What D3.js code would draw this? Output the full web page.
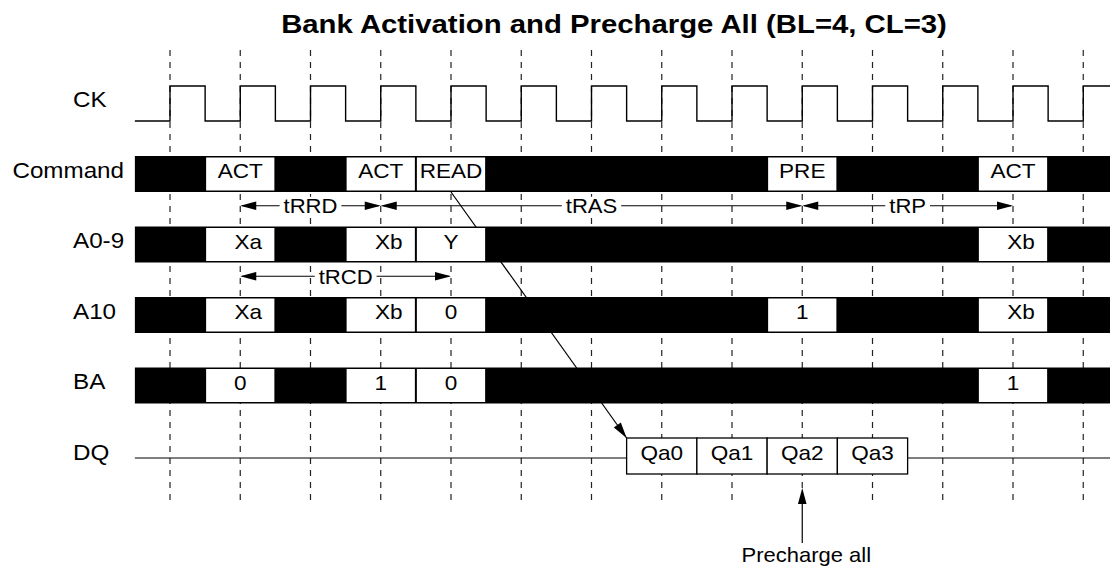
<!DOCTYPE html>
<html>
<head>
<meta charset="utf-8">
<script src="https://cdn.jsdelivr.net/npm/d3@7/dist/d3.min.js"></script>
<style>
  body { margin: 0; background: #fff; }
  text { font-family: "Liberation Sans", Arial, sans-serif; fill: #000; }
</style>
</head>
<body>
<svg id="chart" width="1110" height="568"></svg>
<script>
// chart data
var title = 'Bank Activation and Precharge All (BL=4, CL=3)';
var signals = ['CK', 'Command', 'A0-9', 'A10', 'BA', 'DQ'];
var edges = d3.range(0, 14);                 // clock rising edges
var slotCycles = [0, 2, 3, 8, 11];           // cycle a bus value starts after
var cmdValues = ['ACT', 'ACT', 'READ', 'PRE', 'ACT'];
var addrValues = ['Xa', 'Xb', 'Y', null, 'Xb'];
var a10Values = ['Xa', 'Xb', '0', '1', 'Xb'];
var baValues = ['0', '1', '0', null, '1'];
var dqCycles = [6, 7, 8, 9];
var dqValues = ['Qa0', 'Qa1', 'Qa2', 'Qa3'];
var timingNames = ['tRRD', 'tRAS', 'tRP', 'tRCD'];
var timingFrom = [1, 3, 9, 1];
var timingTo = [3, 9, 12, 4];
var timingBelow = ['Command', 'Command', 'Command', 'A0-9'];
var readCycle = 4, prechargeCycle = 9;
var noteText = 'Precharge all';

var W = 1110, H = 568, SX = 1.1;
var svg = d3.select('#chart');

var x = d3.scaleLinear().domain([0, 13]).range([170, 1083.25]);
var y = d3.scalePoint().domain(signals).range([103.5, 456]);
var half = 18, ckAmp = 17.5;

// stretched text helper (reference font is a bit wide)
function label(g, tx, ty, txt, size, anchor, weight, sx) {
    return g.append('text')
        .attr('transform', 'translate(' + tx + ',' + ty + ') scale(' + (sx || SX) + ',1)')
        .attr('text-anchor', anchor || 'middle')
        .attr('font-size', size)
        .attr('font-weight', weight || 'normal')
        .text(txt);
}
function arrowHead(g, tx, ty, ang) {
    var L = 16, w = 4.3, c = Math.cos(ang), s = Math.sin(ang);
    var bx = tx - L * c, by = ty - L * s;
    g.append('polygon')
        .attr('points', [[tx, ty], [bx - w * s, by + w * c], [bx + w * s, by - w * c]].join(' '))
        .attr('fill', '#000');
}

// title
label(svg, 614, 33, title, 25.5, 'middle', 'bold', 1.15);

// dashed clock edge guides
svg.append('g').selectAll('line').data(edges).enter().append('line')
    .attr('x1', d => x(d)).attr('x2', d => x(d))
    .attr('y1', 50).attr('y2', 503)
    .attr('stroke', '#222').attr('stroke-width', 1.2)
    .attr('stroke-dasharray', '6 6');

// READ -> data diagonal (under the buses)
var dx0 = x(readCycle), dy0 = y('Command') + half;
var dx1 = x(dqCycles[0] + 0.5), dy1 = y('DQ') - half;
svg.append('line')
    .attr('x1', dx0).attr('y1', dy0).attr('x2', dx1).attr('y2', dy1)
    .attr('stroke', '#000').attr('stroke-width', 1.2);
arrowHead(svg, dx1, dy1, Math.atan2(dy1 - dy0, dx1 - dx0));

// clock
var ckPts = [[x(-0.5), y('CK') + ckAmp]];
edges.forEach(function (k) {
    ckPts.push([x(k), y('CK') + ckAmp], [x(k), y('CK') - ckAmp]);
    var xf = Math.min(x(k + 0.5), W);
    ckPts.push([xf, y('CK') - ckAmp]);
    if (x(k + 0.5) < W) ckPts.push([xf, y('CK') + ckAmp]);
});
svg.append('path')
    .attr('d', d3.line()(ckPts))
    .attr('fill', 'none').attr('stroke', '#000').attr('stroke-width', 1.4);

// buses
var buses = [['Command', cmdValues], ['A0-9', addrValues], ['A10', a10Values], ['BA', baValues]];
buses.forEach(function (b) {
    var cy = y(b[0]);
    var g = svg.append('g');
    g.append('rect')
        .attr('x', x(-0.5)).attr('y', cy - half)
        .attr('width', W - x(-0.5)).attr('height', 2 * half)
        .attr('fill', '#000');
    var cells = slotCycles.map((k, i) => ({ k: k, v: b[1][i] })).filter(d => d.v !== null);
    g.selectAll('rect.cell').data(cells).enter().append('rect')
        .attr('class', 'cell')
        .attr('x', d => x(d.k + 0.5) + 1).attr('y', cy - half + 1.5)
        .attr('width', d => x(d.k + 1.5) - x(d.k + 0.5) - 2).attr('height', 2 * half - 3)
        .attr('fill', '#fff');
    cells.forEach(function (d) {
        var off = d.v.charAt(0) === 'X' ? 8 : 0;
        label(g, x(d.k + 1) + off, cy + 4, d.v, 20.5);
    });
});

// DQ line and burst
var dq = svg.append('g');
dq.append('line')
    .attr('x1', x(-0.5)).attr('x2', W)
    .attr('y1', y('DQ') + 2).attr('y2', y('DQ') + 2)
    .attr('stroke', '#000').attr('stroke-width', 1.2);
dq.selectAll('rect').data(dqCycles).enter().append('rect')
    .attr('x', d => x(d + 0.5)).attr('y', y('DQ') - half)
    .attr('width', d => x(d + 1.5) - x(d + 0.5)).attr('height', 2 * half)
    .attr('fill', '#fff').attr('stroke', '#000').attr('stroke-width', 1.3);
dqCycles.forEach(function (d, i) {
    label(dq, x(d + 1), y('DQ') + 4, dqValues[i], 20.5);
});

// signal names
signals.forEach(function (s) {
    var t = label(svg, 73, y(s) + 3.5, s, 22, 'start');
    var w = t.node().getComputedTextLength() * SX;
    if (73 + w > 128) {
        t.attr('text-anchor', 'end')
            .attr('transform', 'translate(124,' + (y(s) + 3.5) + ') scale(' + SX + ',1)');
    }
});

// timing parameters
timingNames.forEach(function (n, i) {
    var idx = signals.indexOf(timingBelow[i]);
    var ty = (y(signals[idx]) + y(signals[idx + 1])) / 2 - 3.5;
    var x0 = x(timingFrom[i]), x1 = x(timingTo[i]);
    var g = svg.append('g');
    g.append('line')
        .attr('x1', x0 + 2).attr('x2', x1 - 2).attr('y1', ty).attr('y2', ty)
        .attr('stroke', '#000').attr('stroke-width', 1.2);
    var t = label(g, (x0 + x1) / 2, ty + 7.5, n, 21, 'middle', 'normal', 1.05);
    var tw = t.node().getComputedTextLength() * 1.05;
    g.insert('rect', 'text')
        .attr('x', (x0 + x1) / 2 - tw / 2 - 4).attr('y', ty - 9)
        .attr('width', tw + 8).attr('height', 18)
        .attr('fill', '#fff');
    arrowHead(g, x0, ty, Math.PI);
    arrowHead(g, x1, ty, 0);
});

// precharge all note
var px = x(prechargeCycle), tipY = y('DQ') + 32;
svg.append('line')
    .attr('x1', px).attr('x2', px).attr('y1', tipY + 10).attr('y2', tipY + 55)
    .attr('stroke', '#000').attr('stroke-width', 1.2);
arrowHead(svg, px, tipY, -Math.PI / 2);
label(svg, px + 4, 562, noteText, 20);
</script>
</body>
</html>
